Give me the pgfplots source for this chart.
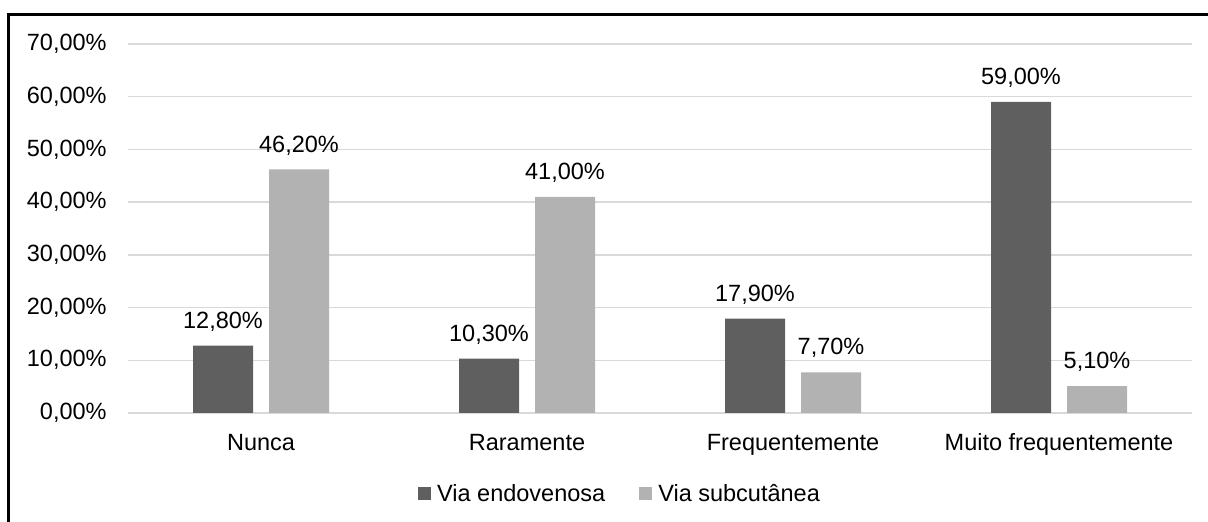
\documentclass[border=0pt]{standalone}
\usepackage{fontspec}
\setmainfont{Liberation Sans}
\usepackage{pgfplots}
\pgfplotsset{compat=1.18}
\definecolor{darkbar}{HTML}{5F5F5F}
\definecolor{lightbar}{HTML}{B2B2B2}
\definecolor{gridc}{HTML}{D9D9D9}
\begin{document}
\begin{tikzpicture}
\path[use as bounding box] (0,0) rectangle (604pt,261pt);
\draw[line width=1.5pt,line cap=rect] (4pt,-2pt) -- (4pt,253.5pt) -- (606pt,253.5pt);
\begin{axis}[
  at={(64pt,54.5pt)}, anchor=south west,
  scale only axis, width=532pt, height=184.5pt,
  font=\fontsize{11.75}{14}\selectfont,
  /pgf/number format/assume math mode=true,
  ybar=8pt, bar width=30pt,
  xmin=-0.5, xmax=3.5, ymin=0, ymax=70,
  xtick=data,
  xticklabels={Nunca,Raramente,Frequentemente,Muito frequentemente},
  ytick={0,10,...,70},
  yticklabel={\pgfmathprintnumber[fixed,fixed zerofill,precision=2,use comma]{\tick}\%},
  yticklabel style={inner sep=0pt, xshift=-10.5pt},
  xticklabel style={inner sep=0pt, yshift=-10pt, text height=8.5pt},
  axis line style={draw=none},
  major tick length=0pt,
  ymajorgrids, grid style={gridc, line width=0.75pt},
  nodes near coords={\pgfmathprintnumber[fixed,fixed zerofill,precision=2,use comma]{\pgfplotspointmeta}\%},
  nodes near coords style={inner sep=0pt, yshift=7pt, black},
  legend style={draw=none, at={(0.4615,0)}, anchor=center, yshift=-40.5pt,
    legend columns=2, font=\fontsize{11.75}{14}\selectfont,
    column sep=0pt,
    nodes={inner sep=0pt}},
  legend image code/.code={\fill[#1] (0pt,-3.25pt) rectangle (6.5pt,3.25pt); \path (9.5pt,0pt);},
  clip=false,
]
\addplot[fill=darkbar, draw=none] coordinates {(0,12.8) (1,10.3) (2,17.9) (3,59.0)};
\addplot[fill=lightbar, draw=none] coordinates {(0,46.2) (1,41.0) (2,7.7) (3,5.1)};
\legend{Via endovenosa\hspace*{17pt}, Via subcutânea}
\end{axis}
\end{tikzpicture}
\end{document}
